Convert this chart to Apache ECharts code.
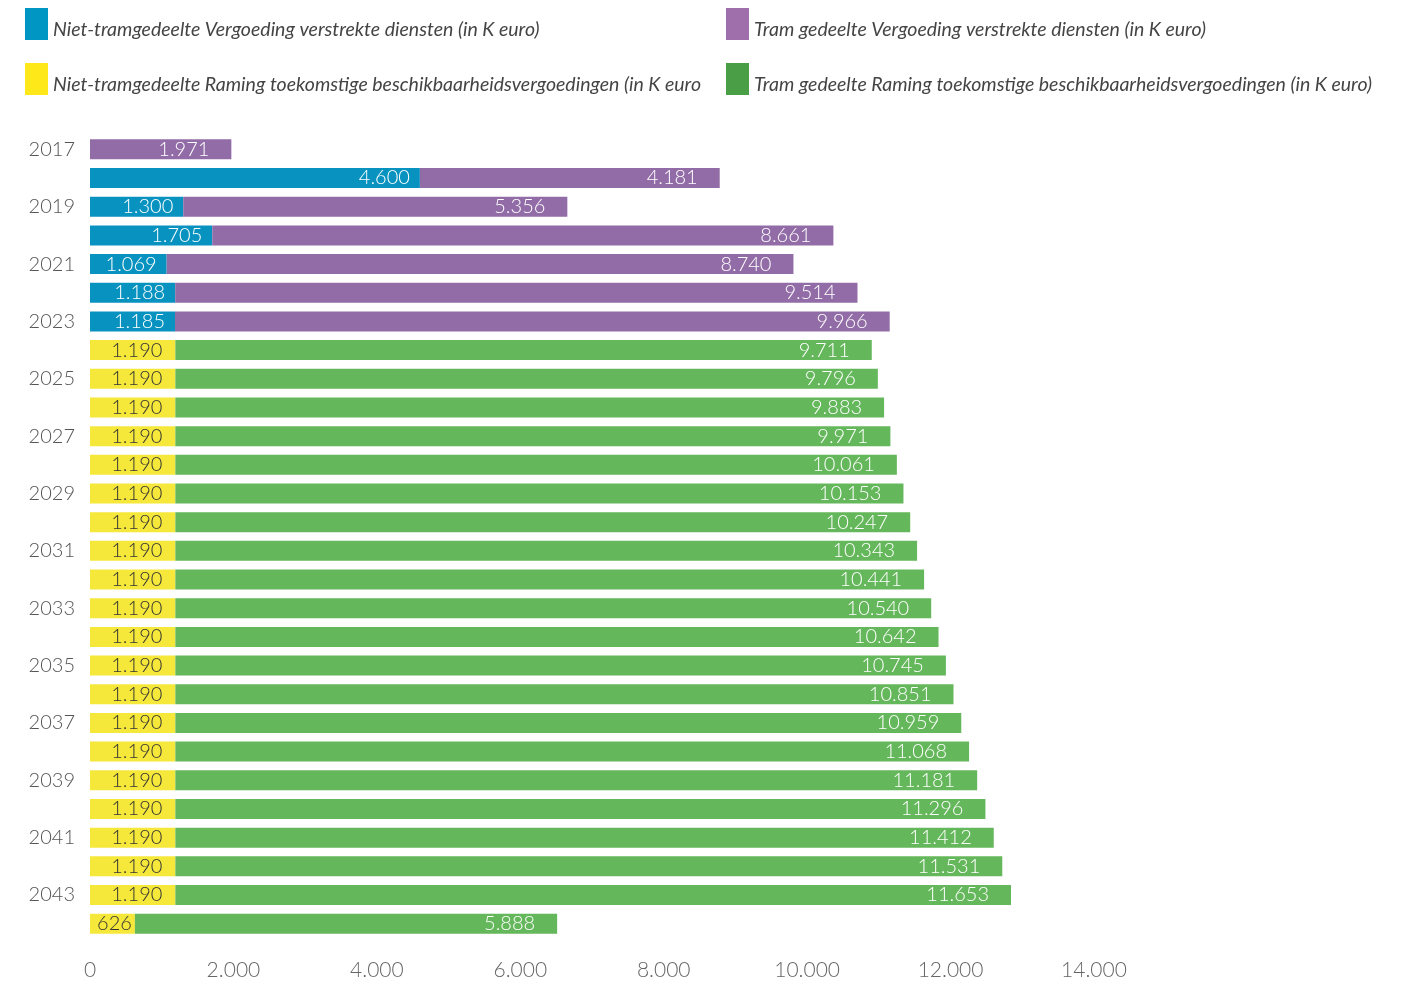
<!DOCTYPE html>
<html><head><meta charset="utf-8">
<script src="https://cdn.jsdelivr.net/npm/echarts@6/dist/echarts.min.js"></script>
<style>html,body{margin:0;padding:0;background:#fff}#c{width:1427px;height:981px}</style>
</head><body><div id="c"></div>
<script>
const years = [2017,2018,2019,2020,2021,2022,2023,2024,2025,2026,2027,2028,2029,2030,2031,2032,2033,2034,2035,2036,2037,2038,2039,2040,2041,2042,2043,2044];
const nietVergoeding = [null,4600,1300,1705,1069,1188,1185,null,null,null,null,null,null,null,null,null,null,null,null,null,null,null,null,null,null,null,null,null];
const tramVergoeding = [1971,4181,5356,8661,8740,9514,9966,null,null,null,null,null,null,null,null,null,null,null,null,null,null,null,null,null,null,null,null,null];
const nietRaming = [null,null,null,null,null,null,null,1190,1190,1190,1190,1190,1190,1190,1190,1190,1190,1190,1190,1190,1190,1190,1190,1190,1190,1190,1190,626];
const tramRaming = [null,null,null,null,null,null,null,9711,9796,9883,9971,10061,10153,10247,10343,10441,10540,10642,10745,10851,10959,11068,11181,11296,11412,11531,11653,5888];
const xTicks = [0,2000,4000,6000,8000,10000,12000,14000];
const names = [
  'Niet-tramgedeelte Vergoeding verstrekte diensten (in K euro)',
  'Tram gedeelte Vergoeding verstrekte diensten (in K euro)',
  'Niet-tramgedeelte Raming toekomstige beschikbaarheidsvergoedingen (in K euro',
  'Tram gedeelte Raming toekomstige beschikbaarheidsvergoedingen (in K euro)'
];
const FONT = 'Lato';
function fmt(v){ return String(Math.round(v)).replace(/\B(?=(\d{3})+(?!\d))/g,'.'); }
function mkLabel(color, dist){
  return {show:true, position:'insideRight', distance:dist, color:color, fontFamily:FONT, fontWeight:300, fontSize:20,
    formatter:p => p.value==null?'':fmt(p.value)};
}
const chart = echarts.init(document.getElementById('c'), null, {renderer:'canvas'});
const legendText = {fontFamily:FONT, fontStyle:'italic', fontSize:19.5, color:'#444',
  rich:{t:{fontFamily:FONT, fontStyle:'italic', fontSize:19.5, color:'#444', padding:[12,0,0,0]}}};
const legendFmt = n => '{t|' + n + '}';
chart.setOption({
  animation:false,
  legend:[
    {left:25, top:8, padding:0, orient:'vertical', itemWidth:23, itemHeight:32, itemGap:23, icon:'rect',
     data:[{name:names[0], itemStyle:{color:'#0096C3'}}, {name:names[2], itemStyle:{color:'#FFE81A'}}],
     formatter:legendFmt, textStyle:legendText, selectedMode:false},
    {left:726, top:8, padding:0, orient:'vertical', itemWidth:23, itemHeight:32, itemGap:23, icon:'rect',
     data:[{name:names[1], itemStyle:{color:'#9E6FAA'}}, {name:names[3], itemStyle:{color:'#4A9E45'}}],
     formatter:legendFmt, textStyle:legendText, selectedMode:false}
  ],
  grid:{left:90, right:333, top:135, bottom:42, containLabel:false},
  xAxis:{type:'value', min:xTicks[0], max:xTicks[xTicks.length-1], interval:xTicks[1]-xTicks[0],
    axisLine:{show:false}, axisTick:{show:false}, splitLine:{show:false},
    axisLabel:{formatter:v=>fmt(v), color:'#666', fontFamily:FONT, fontWeight:300, fontSize:21, margin:22}},
  yAxis:{type:'category', inverse:true, data:years.map(String),
    axisLine:{show:false}, axisTick:{show:false},
    axisLabel:{interval:1, color:'#555', fontFamily:FONT, fontWeight:300, fontSize:20, margin:15}},
  series:[
    {name:names[0], type:'bar', stack:'a', data:nietVergoeding, barWidth:20, itemStyle:{color:'#0892C0'}, label:mkLabel('#fff',10)},
    {name:names[2], type:'bar', stack:'a', barWidth:20, itemStyle:{color:'#F6E83A'}, label:mkLabel('#333',13),
     data:nietRaming.map(v => (v!=null && v<800) ? {value:v, label:{distance:3}} : v)},
    {name:names[1], type:'bar', stack:'a', data:tramVergoeding, barWidth:20, itemStyle:{color:'#926CA6'}, label:mkLabel('#fff',22)},
    {name:names[3], type:'bar', stack:'a', data:tramRaming, barWidth:20, itemStyle:{color:'#64B75A'}, label:mkLabel('#fff',22)}
  ]
});
</script></body></html>
